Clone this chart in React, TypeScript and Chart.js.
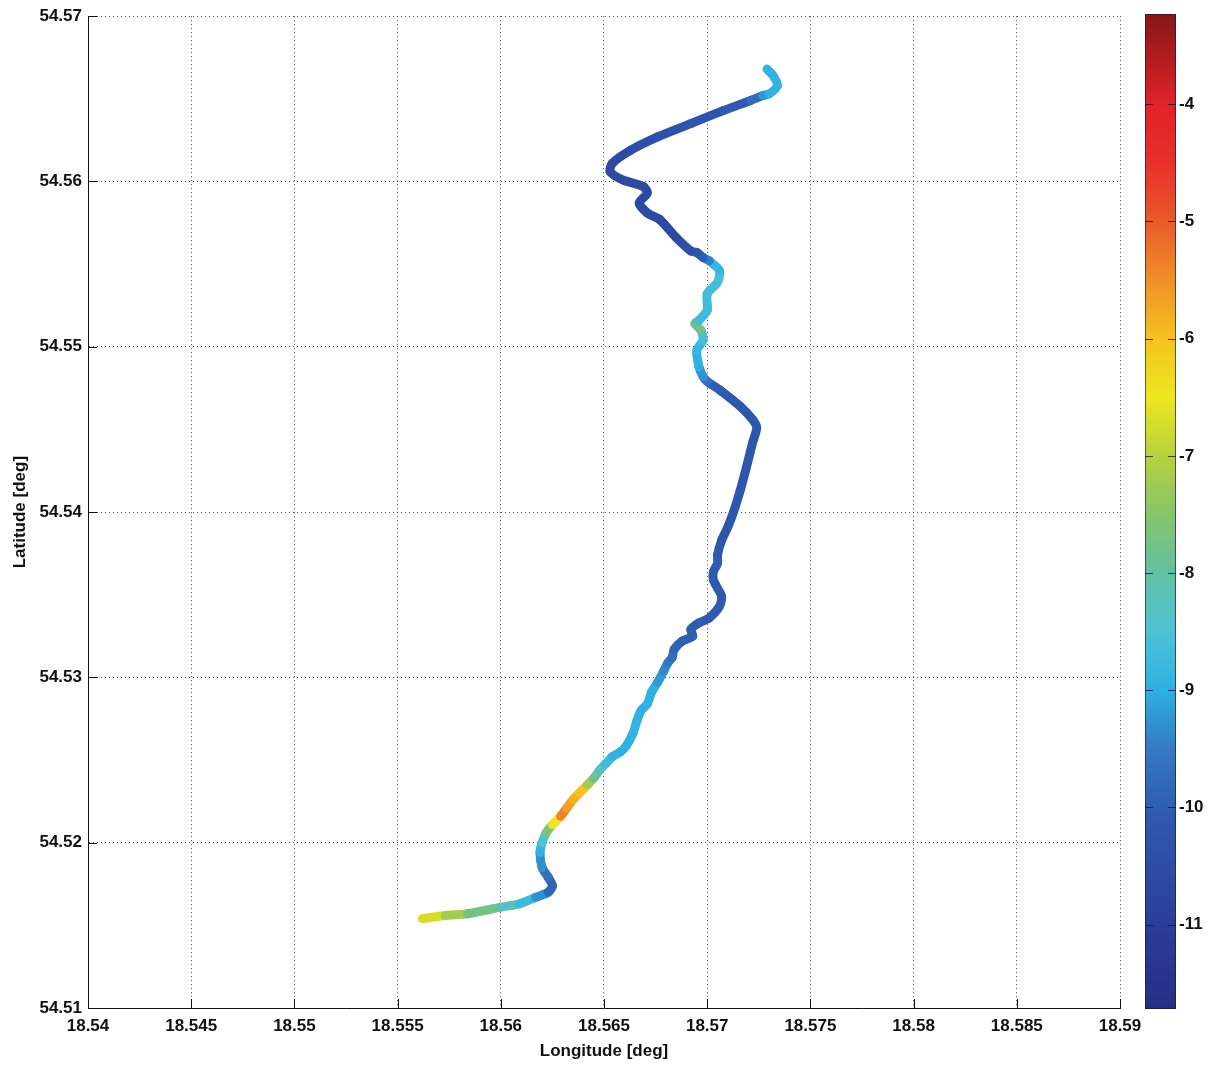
import React, { useEffect, useRef } from "react";
import { Chart, registerables } from "chart.js";

Chart.register(...registerables);

// ---- Data (track of the survey: longitude, latitude, colour value) ----
const longitude = [
  18.5562, 18.5573, 18.5584, 18.56, 18.5609, 18.5617, 18.5623, 18.5625, 18.5623, 18.562,
  18.5619, 18.562, 18.5622, 18.5625, 18.5629, 18.5632, 18.5635, 18.5638, 18.5642, 18.5645,
  18.5648, 18.5651, 18.5654, 18.5658, 18.5661, 18.5664, 18.5666, 18.5668, 18.5671, 18.5673,
  18.5676, 18.5679, 18.5681, 18.5683, 18.5684, 18.5688, 18.5693, 18.5692, 18.5696, 18.5701,
  18.5706, 18.5707, 18.5705, 18.5703, 18.5703, 18.5705, 18.5705, 18.5707, 18.571, 18.5713,
  18.5716, 18.5719, 18.5722, 18.5724, 18.5722, 18.5716, 18.5706, 18.57, 18.5698, 18.5696,
  18.5695, 18.5698, 18.5697, 18.5694, 18.5696, 18.57, 18.57, 18.5705, 18.5706, 18.5701,
  18.5698, 18.5695, 18.5692, 18.5685, 18.5677, 18.5671, 18.5667, 18.5671, 18.5669, 18.5659,
  18.5653, 18.5654, 18.5663, 18.5676, 18.5692, 18.5708, 18.5721, 18.5727, 18.573, 18.5734,
  18.5732, 18.5729,
];
const latitude = [
  54.5154, 54.5156, 54.5157, 54.5161, 54.5163, 54.5167, 54.517, 54.5174, 54.5179, 54.5185,
  54.5194, 54.52, 54.5206, 54.5211, 54.5216, 54.5221, 54.5226, 54.523, 54.5235, 54.5239,
  54.5244, 54.5248, 54.5252, 54.5255, 54.5259, 54.5266, 54.5274, 54.528, 54.5284, 54.5291,
  54.5297, 54.5304, 54.5309, 54.5312, 54.5317, 54.5322, 54.5325, 54.5329, 54.5333, 54.5336,
  54.5343, 54.5349, 54.5354, 54.5359, 54.5364, 54.5369, 54.5374, 54.5383, 54.5391, 54.5401,
  54.5413, 54.5427, 54.5442, 54.5451, 54.5456, 54.5464, 54.5474, 54.5479, 54.5482, 54.5488,
  54.5498, 54.5504, 54.551, 54.5514, 54.5516, 54.5522, 54.5532, 54.5539, 54.5546, 54.5552,
  54.5554, 54.5557, 54.5558, 54.5566, 54.5577, 54.5581, 54.5587, 54.5593, 54.5597, 54.5601,
  54.5606, 54.5611, 54.5619, 54.5627, 54.5635, 54.5643, 54.5649, 54.5652, 54.5653, 54.5658,
  54.5664, 54.5668,
];
const trackValue = [
  -6.5, -6.9, -7.5, -8.0, -8.5, -9.0, -9.6, -10.0, -9.8, -9.5,
  -9.1, -8.8, -8.2, -7.0, -6.0, -4.8, -6.5, -5.2, -6.8, -7.6,
  -8.1, -8.6, -8.8, -9.0, -9.0, -8.9, -8.9, -9.0, -9.0, -8.9,
  -9.1, -9.3, -9.5, -9.6, -9.8, -9.9, -10.0, -10.0, -10.0, -10.1,
  -10.1, -10.1, -10.1, -10.1, -10.1, -10.1, -10.1, -10.2, -10.2, -10.2,
  -10.2, -10.2, -10.2, -10.2, -10.2, -10.2, -10.1, -9.9, -9.4, -9.1,
  -8.9, -8.8, -8.5, -7.0, -8.8, -8.7, -8.7, -8.6, -8.7, -9.0,
  -9.9, -10.1, -10.3, -10.5, -10.7, -10.6, -10.6, -10.6, -10.6, -10.5,
  -10.6, -10.6, -10.5, -10.4, -10.3, -10.2, -10.0, -9.5, -9.0, -8.9,
  -8.9, -8.9,
];

// Axis ranges and ticks
const lonMin = 18.54;
const lonMax = 18.59;
const lonStep = 0.005;
const latMin = 54.51;
const latMax = 54.57;
const latStep = 0.01;
const cbMin = -11.72;
const cbMax = -3.23;
const cbStep = 1;

// Colour map (value -> colour)
const cmapValues = [-11.72, -11.0, -10.0, -9.5, -9.0, -8.5, -8.0, -7.5, -7.0, -6.5, -6.0, -5.5, -5.0, -4.5, -4.0, -3.23];
const cmapColors = [
  "#262f85", "#2b3d98", "#2f5db0", "#3479c3", "#2fb0e3", "#4fc1d4", "#62c0a2", "#86c56a",
  "#b6d23c", "#ede61e", "#f6c21f", "#f18f2a", "#ea5a2a", "#e8302a", "#e1222a", "#861616",
];

const FONT = "'Liberation Sans', Arial, Helvetica, sans-serif";

function hexToRgb(h: string) {
  const n = parseInt(h.slice(1), 16);
  return [(n >> 16) & 255, (n >> 8) & 255, n & 255];
}

function colorAt(v: number) {
  if (v <= cmapValues[0]) return cmapColors[0];
  const last = cmapValues.length - 1;
  if (v >= cmapValues[last]) return cmapColors[last];
  for (let i = 0; i < last; i++) {
    const a = cmapValues[i];
    const b = cmapValues[i + 1];
    if (v >= a && v <= b) {
      const t = (v - a) / (b - a);
      const ca = hexToRgb(cmapColors[i]);
      const cb = hexToRgb(cmapColors[i + 1]);
      const c = ca.map((x, k) => Math.round(x + (cb[k] - x) * t));
      return `rgb(${c[0]},${c[1]},${c[2]})`;
    }
  }
  return cmapColors[last];
}

const innerTicks = {
  id: "innerTicks",
  afterDatasetsDraw(chart: any) {
    const { ctx, chartArea, scales } = chart;
    ctx.save();
    ctx.strokeStyle = "#111";
    ctx.lineWidth = 1;
    ctx.beginPath();
    scales.x.ticks.forEach((t: any) => {
      const px = Math.round(scales.x.getPixelForValue(t.value)) + 0.5;
      ctx.moveTo(px, chartArea.bottom);
      ctx.lineTo(px, chartArea.bottom - 9);
    });
    scales.y.ticks.forEach((t: any) => {
      const py = Math.round(scales.y.getPixelForValue(t.value)) + 0.5;
      ctx.moveTo(chartArea.left, py);
      ctx.lineTo(chartArea.left + 9, py);
    });
    ctx.stroke();
    ctx.restore();
  },
};

const colorbarTicks = {
  id: "colorbarTicks",
  afterDatasetsDraw(chart: any) {
    const { ctx, chartArea, scales } = chart;
    ctx.save();
    ctx.strokeStyle = "rgba(20,20,40,0.75)";
    ctx.lineWidth = 1;
    ctx.beginPath();
    scales.y.ticks.forEach((t: any) => {
      const py = Math.round(scales.y.getPixelForValue(t.value)) + 0.5;
      ctx.moveTo(chartArea.left, py);
      ctx.lineTo(chartArea.left + 8, py);
      ctx.moveTo(chartArea.right - 8, py);
      ctx.lineTo(chartArea.right, py);
    });
    ctx.stroke();
    ctx.restore();
  },
};

export default function App() {
  const mainRef = useRef<HTMLCanvasElement>(null);
  const cbRef = useRef<HTMLCanvasElement>(null);

  useEffect(() => {
    const points = longitude.map((x, i) => ({ x, y: latitude[i] }));
    const tickFont = { family: FONT, size: 17, weight: "bold" as const };

    const main = new Chart(mainRef.current!, {
      type: "scatter",
      data: {
        datasets: [
          {
            data: points,
            showLine: true,
            borderWidth: 9,
            borderCapStyle: "round",
            borderJoinStyle: "round",
            tension: 0.25,
            pointRadius: 0,
            borderColor: colorAt(trackValue[0]),
            segment: {
              borderColor: (ctx: any) =>
                colorAt((trackValue[ctx.p0DataIndex] + trackValue[ctx.p1DataIndex]) / 2),
            },
          } as any,
        ],
      },
      options: {
        responsive: false,
        animation: false,
        devicePixelRatio: 1,
        layout: { padding: { left: 0, top: 16, right: 93, bottom: 0 } },
        plugins: { legend: { display: false }, tooltip: { enabled: false } },
        scales: {
          x: {
            type: "linear",
            min: lonMin,
            max: lonMax,
            afterFit: (s: any) => {
              s.height = 58;
            },
            ticks: {
              stepSize: lonStep,
              maxRotation: 0,
              autoSkip: false,
              padding: 8,
              color: "#111",
              font: tickFont,
              callback: (v: any) => String(Number(Number(v).toFixed(3))),
            },
            grid: { color: "#4a4a4a", lineWidth: 1, drawTicks: false },
            border: { display: true, color: "#111", width: 1, dash: [1, 3] },
            title: {
              display: true,
              text: "Longitude [deg]",
              color: "#111",
              font: tickFont,
              padding: { top: 0, bottom: 4 },
            },
          },
          y: {
            type: "linear",
            min: latMin,
            max: latMax,
            afterFit: (s: any) => {
              s.width = 88;
            },
            ticks: {
              stepSize: latStep,
              padding: 6,
              color: "#111",
              font: tickFont,
              callback: (v: any) => String(Number(Number(v).toFixed(2))),
            },
            grid: { color: "#4a4a4a", lineWidth: 1, drawTicks: false },
            border: { display: true, color: "#111", width: 1, dash: [1, 3] },
            title: {
              display: true,
              text: "Latitude [deg]",
              color: "#111",
              font: tickFont,
              padding: { top: 10, bottom: 0 },
            },
          },
        },
      },
      plugins: [innerTicks],
    });

    const cb = new Chart(cbRef.current!, {
      type: "bar",
      data: {
        labels: ["colour"],
        datasets: [
          {
            data: [[cbMin, cbMax]] as any,
            borderWidth: 1,
            borderColor: "#1a1a2a",
            borderSkipped: false,
            barPercentage: 1,
            categoryPercentage: 1,
            backgroundColor: (ctx: any) => {
              const area = ctx.chart.chartArea;
              if (!area) return "#888";
              const g = ctx.chart.ctx.createLinearGradient(0, area.bottom, 0, area.top);
              cmapValues.forEach((v, i) => {
                g.addColorStop((v - cbMin) / (cbMax - cbMin), cmapColors[i]);
              });
              return g;
            },
          },
        ],
      },
      options: {
        responsive: false,
        animation: false,
        devicePixelRatio: 1,
        layout: { padding: { left: 15, top: 14, right: 0, bottom: 57 } },
        plugins: { legend: { display: false }, tooltip: { enabled: false } },
        scales: {
          x: { display: false },
          y: {
            type: "linear",
            position: "right",
            min: cbMin,
            max: cbMax,
            afterFit: (s: any) => {
              s.width = 37;
            },
            ticks: {
              stepSize: cbStep,
              includeBounds: false,
              padding: 3,
              color: "#111",
              font: tickFont,
              callback: (v: any) => String(Math.round(Number(v))),
            },
            grid: { display: false, drawTicks: false },
            border: { display: false },
          },
        },
      },
      plugins: [colorbarTicks],
    });

    return () => {
      main.destroy();
      cb.destroy();
    };
  }, []);

  return (
    <div style={{ position: "absolute", left: 0, top: 0, width: 1213, height: 1066, background: "#fff" }}>
      <canvas ref={mainRef} width={1213} height={1066} style={{ position: "absolute", left: 0, top: 0 }} />
      <canvas ref={cbRef} width={83} height={1066} style={{ position: "absolute", left: 1130, top: 0 }} />
    </div>
  );
}
